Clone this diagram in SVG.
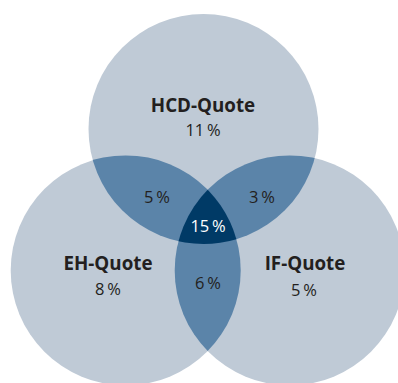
<svg xmlns="http://www.w3.org/2000/svg" width="398" height="383" viewBox="0 0 398 383">
<style>
.light{fill:#bfcad6}
.mid{fill:#5b84a9}
.dark{fill:#003a66}
.lbl{font-family:"Open Sans","Noto Sans",sans-serif;font-weight:bold;font-size:18.8px;fill:#231f20;text-anchor:middle}
.pct{font-family:"Open Sans","Noto Sans",sans-serif;font-size:16.5px;fill:#231f20;text-anchor:middle}
.w{fill:#ffffff}
</style>
<defs>
<circle id="cT" cx="203.5" cy="129" r="115"/>
<circle id="cL" cx="125.7" cy="270.4" r="115"/>
<circle id="cR" cx="289.7" cy="270.4" r="115"/>
<clipPath id="clipT"><use href="#cT"/></clipPath>
<clipPath id="clipL"><use href="#cL"/></clipPath>
<clipPath id="clipTL" clip-path="url(#clipT)"><use href="#cL"/></clipPath>
</defs>
<g id="circles">
<g id="node-hcd"><use href="#cT" class="light"/></g>
<g id="node-eh"><use href="#cL" class="light"/></g>
<g id="node-if"><use href="#cR" class="light"/></g>
</g>
<g id="overlaps">
<g id="overlap-hcd-eh" clip-path="url(#clipT)"><use href="#cL" class="mid"/></g>
<g id="overlap-hcd-if" clip-path="url(#clipT)"><use href="#cR" class="mid"/></g>
<g id="overlap-eh-if" clip-path="url(#clipL)"><use href="#cR" class="mid"/></g>
<g id="overlap-all" clip-path="url(#clipTL)"><use href="#cR" class="dark"/></g>
</g>
<g id="labels">
<text class="lbl" x="203" y="112">HCD-Quote</text>
<text class="pct" x="203" y="136">11&#8201;%</text>
<text class="lbl" x="108" y="270">EH-Quote</text>
<text class="pct" x="108" y="295">8&#8201;%</text>
<text class="lbl" x="305" y="270">IF-Quote</text>
<text class="pct" x="304" y="296">5&#8201;%</text>
<text class="pct" x="157" y="203">5&#8201;%</text>
<text class="pct" x="262" y="203">3&#8201;%</text>
<text class="pct w" x="208" y="232">15&#8201;%</text>
<text class="pct" x="208" y="289">6&#8201;%</text>
</g>
</svg>
